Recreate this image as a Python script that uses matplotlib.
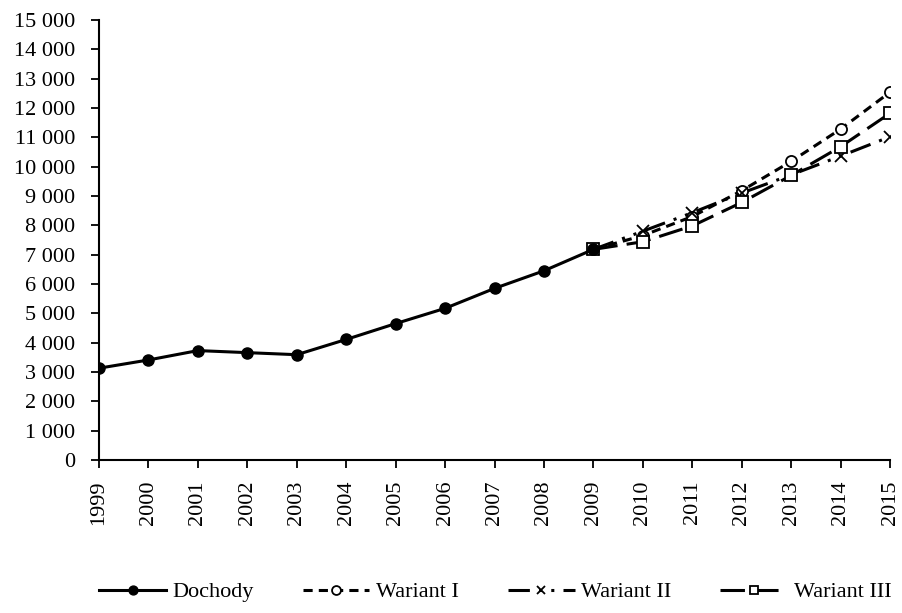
import matplotlib
matplotlib.use('Agg')
import matplotlib.pyplot as plt
from matplotlib.ticker import FuncFormatter, MultipleLocator

plt.rcParams['font.family'] = ['Liberation Serif', 'DejaVu Serif']

years = list(range(1999, 2016))
lata_dochody = list(range(1999, 2010))
dochody = [3130, 3410, 3730, 3660, 3590, 4110, 4650, 5170, 5850, 6450, 7180]

lata_prognoza = list(range(2009, 2016))
wariant_1 = [7180, 7650, 8300, 9180, 10180, 11280, 12540]
wariant_2 = [7180, 7800, 8430, 9100, 9720, 10360, 11020]
wariant_3 = [7180, 7440, 7980, 8780, 9700, 10680, 11820]

fig = plt.figure(figsize=(9.02, 6.13), dpi=100)
ax = fig.add_axes([99 / 902, 1 - 460 / 613, (890 - 99) / 902, (460 - 20) / 613])

ax.plot(lata_dochody, dochody, color='black', lw=2.2, marker='o', ms=8,
        mfc='black', mec='black', label='Dochody', zorder=5)
ax.plot(lata_prognoza, wariant_1, color='black', lw=2.2, ls=(0, (3, 2)),
        marker='o', ms=8, mfc='white', mec='black', mew=1.3, label='Wariant I', zorder=3)
ax.plot(lata_prognoza, wariant_2, color='black', lw=2.2, ls=(0, (7, 3, 1, 3, 1, 3)),
        marker='x', ms=8, mec='black', mew=1.3, label='Wariant II', zorder=3)
ax.plot(lata_prognoza, wariant_3, color='black', lw=2.2, ls=(0, (8, 3)),
        marker='s', ms=8, mfc='white', mec='black', mew=1.3, label='Wariant III', zorder=4)

ax.set_xlim(1999, 2015)
ax.set_ylim(0, 15000)
ax.set_xticks(years)
ax.set_xticklabels([str(y) for y in years], rotation=90)
ax.yaxis.set_major_locator(MultipleLocator(1000))
ax.yaxis.set_major_formatter(FuncFormatter(lambda v, p: f'{int(v):,}'.replace(',', ' ')))

for s in ['top', 'right']:
    ax.spines[s].set_visible(False)
for s in ['left', 'bottom']:
    ax.spines[s].set_linewidth(1.5)
ax.tick_params(axis='both', labelsize=16, length=6, width=1.3, direction='out')
ax.tick_params(axis='y', pad=11)
ax.tick_params(axis='x', pad=9)

ax.legend(loc='center', bbox_to_anchor=(0.501, -0.3), ncol=4, frameon=False,
          fontsize=16, handlelength=3.0, columnspacing=2.2, handletextpad=0.3,
          markerscale=0.8)

fig.savefig('out.png', dpi=100)
